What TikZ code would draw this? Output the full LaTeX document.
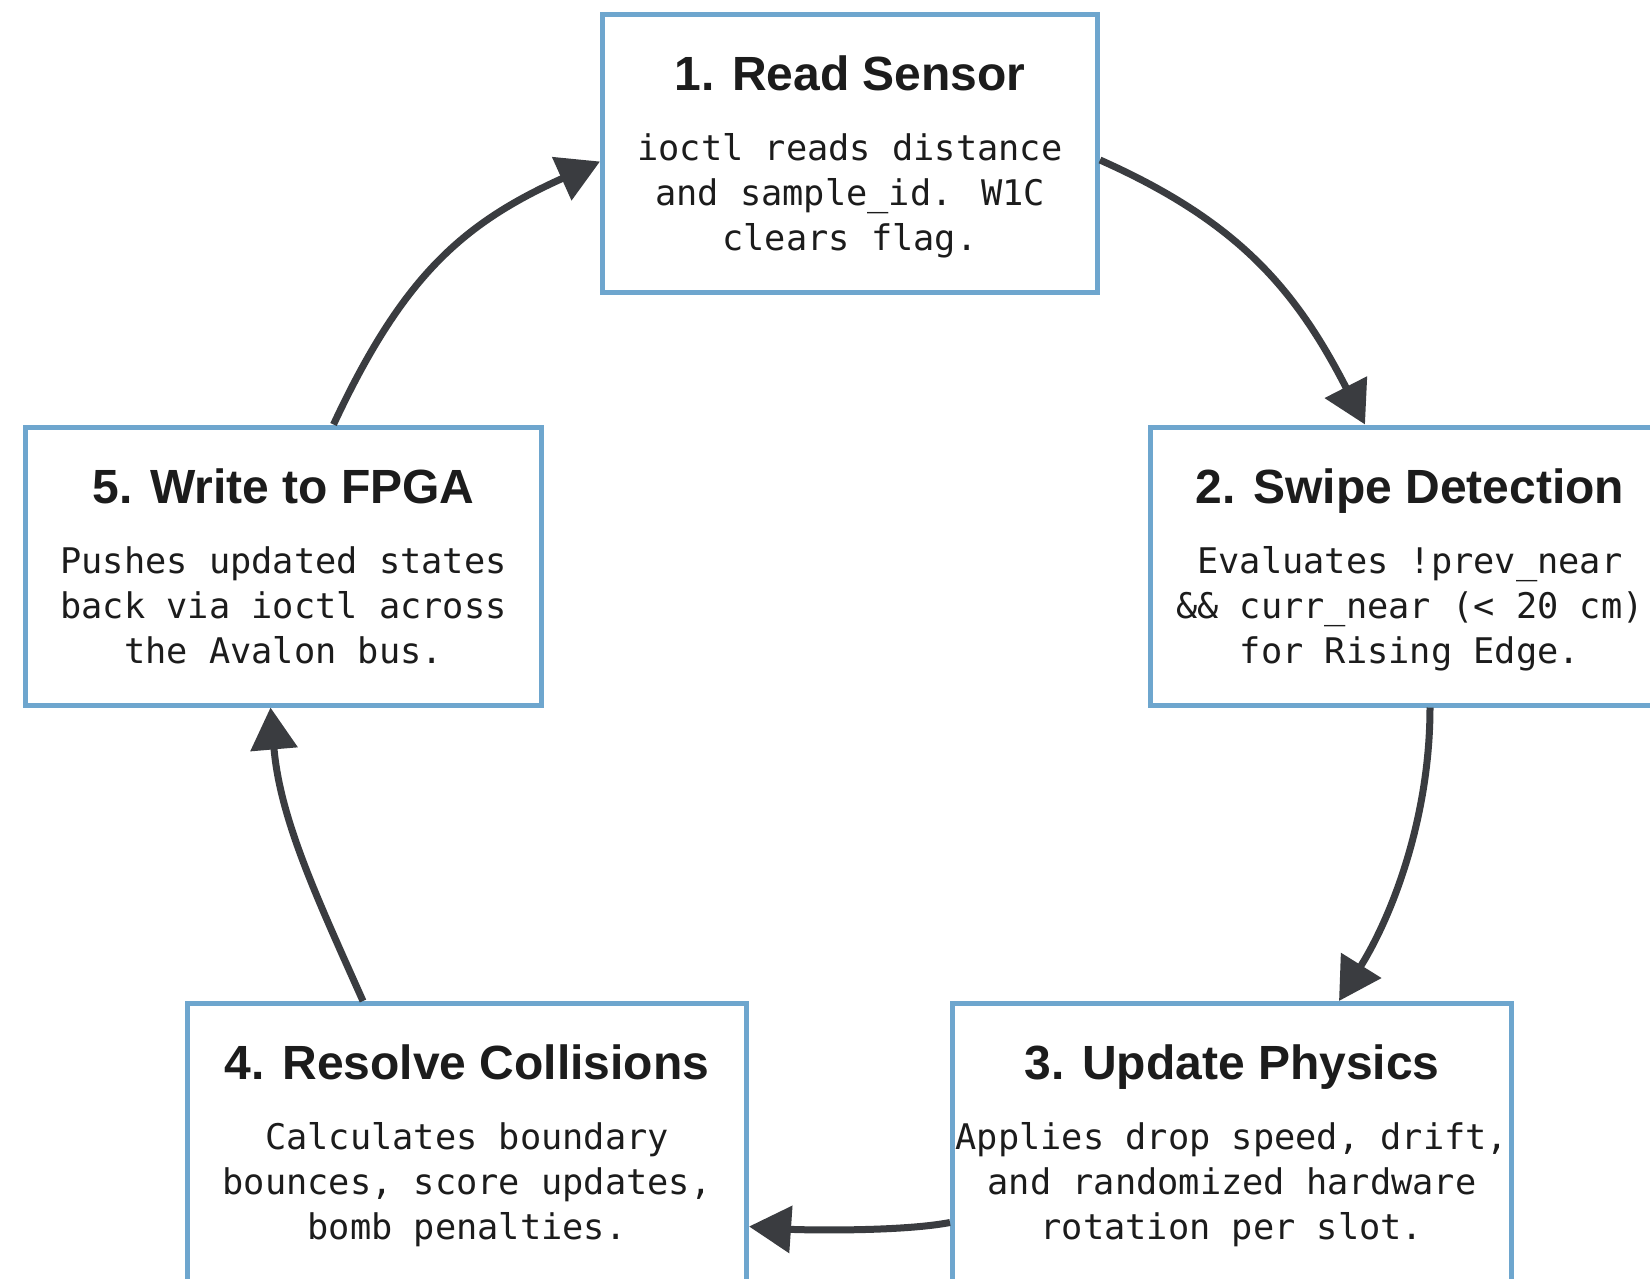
\documentclass[tikz,border=0pt]{standalone}
\usepackage{fontspec}
\newfontfamily\titlefont{Liberation Sans}
\newfontfamily\bodyfont{DejaVu Sans Mono}
\usetikzlibrary{arrows.meta}
\definecolor{boxblue}{RGB}{110,166,206}
\definecolor{inkc}{RGB}{28,28,28}
\definecolor{arrowc}{RGB}{58,60,64}
\begin{document}
\begin{tikzpicture}[x=1pt,y=-1pt,
  stepbox/.style={draw=boxblue, line width=5pt, fill=white, inner sep=0pt, minimum height=278pt},
  ttl/.style={anchor=base, inner sep=0pt, text=inkc, font=\titlefont\bfseries\fontsize{48}{56}\selectfont},
  bdy/.style={anchor=base, inner sep=0pt, align=center, text=inkc, font=\bodyfont\fontsize{35.3}{45}\selectfont},
  flow/.style={draw=arrowc, line width=7pt, -{Triangle[length=42pt,width=46pt]}}]
\useasboundingbox (0,0) rectangle (1650,1278);
\clip (0,0) rectangle (1650,1278);
\fill[white] (0,0) rectangle (1650,1278);

% boxes
\node[stepbox, minimum width=495pt] (b1) at (850,153.5) {};
\node[stepbox, minimum width=519pt] (b2) at (1410,566) {};
\node[stepbox, minimum width=559pt] (b3) at (1232,1142.5) {};
\node[stepbox, minimum width=559pt] (b4) at (467,1142.5) {};
\node[stepbox, minimum width=516pt] (b5) at (283.5,566) {};

% titles
\node[ttl] (t1) at (850,90) {1. Read Sensor};
\node[ttl] (t2) at (1410,503) {2. Swipe Detection};
\node[ttl] (t3) at (1232,1079) {3. Update Physics};
\node[ttl] (t4) at (467,1079) {4. Resolve Collisions};
\node[ttl] (t5) at (283.5,503) {5. Write to FPGA};

% bodies (anchored at the baseline of the last line)
\node[bdy] (d1) at (850,250) {ioctl reads distance\\and sample\_id. W1C\\clears flag.};
\node[bdy] (d2) at (1410,663) {Evaluates !prev\_near\\\&\& curr\_near (< 20 cm)\\for Rising Edge.};
\node[bdy] (d3) at (1232,1239) {Applies drop speed, drift,\\and randomized hardware\\rotation per slot.};
\node[bdy] (d4) at (467,1239) {Calculates boundary\\bounces, score updates,\\bomb penalties.};
\node[bdy] (d5) at (283.5,663) {Pushes updated states\\back via ioctl across\\the Avalon bus.};

% connectors
\draw[flow] ([yshift=-6.5pt]b1.east) .. controls (1237,221) and (1295,288) .. ([xshift=-45pt]b2.north);
\draw[flow] ([xshift=20pt]b2.south) .. controls (1430,818) and (1392,916) .. ([xshift=107pt]b3.north);
\draw[flow] ([yshift=-80pt]b3.west) .. controls (900,1232) and (800,1230) .. ([yshift=-84pt]b4.east);
\draw[flow] ([xshift=-104pt]b4.north) .. controls (317,898) and (280,819) .. ([xshift=-13pt]b5.south);
\draw[flow] ([xshift=50pt]b5.north) .. controls (402,278) and (461,224) .. ([yshift=-8pt]b1.west);
\end{tikzpicture}
\end{document}
